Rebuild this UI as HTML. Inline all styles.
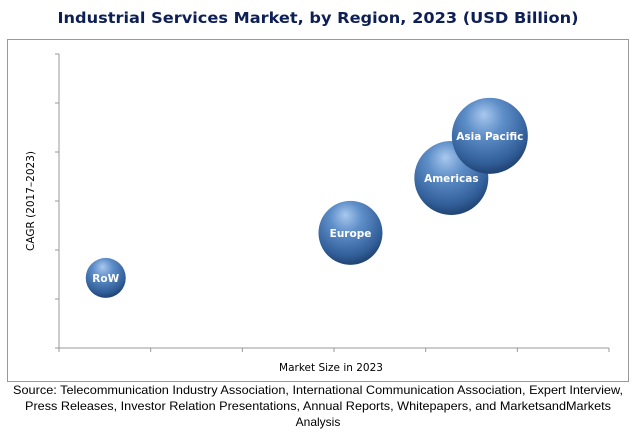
<!DOCTYPE html>
<html><head><meta charset="utf-8"><style>
body{margin:0;background:#fff;width:636px;height:439px;overflow:hidden}
svg{display:block}
</style></head><body>
<svg width="636" height="439" viewBox="0 0 636 439">
<defs>
<radialGradient id="ball" cx="0.45" cy="0.32" r="0.7" fx="0.42" fy="0.22">
<stop offset="0" stop-color="#a9c8ee"/>
<stop offset="0.35" stop-color="#5f8fc9"/>
<stop offset="0.8" stop-color="#325f99"/>
<stop offset="1" stop-color="#1d3f6e"/>
</radialGradient>
</defs>
<text x="318" y="23" text-anchor="middle" font-family="DejaVu Sans, sans-serif" font-weight="bold" font-size="15" fill="#0e1f56" textLength="521" lengthAdjust="spacingAndGlyphs">Industrial Services Market, by Region, 2023 (USD Billion)</text>
<rect x="7.5" y="39.5" width="621" height="342" fill="none" stroke="#999" stroke-width="1"/>
<g id="axes"></g>
<g id="bubbles"></g>
<text x="331" y="371" text-anchor="middle" font-family="DejaVu Sans, sans-serif" font-size="10.5" fill="#000">Market Size in 2023</text>
<text transform="translate(34,201) rotate(-90)" text-anchor="middle" font-family="DejaVu Sans, sans-serif" font-size="10.5" fill="#000">CAGR (2017–2023)</text>
<g font-family="Liberation Sans, sans-serif" font-size="12" fill="#000" text-anchor="middle">
<text x="318" y="394" textLength="610" lengthAdjust="spacingAndGlyphs">Source: Telecommunication Industry Association, International Communication Association, Expert Interview,</text>
<text x="318" y="410" textLength="586" lengthAdjust="spacingAndGlyphs">Press Releases, Investor Relation Presentations, Annual Reports, Whitepapers, and MarketsandMarkets</text>
<text x="318" y="426">Analysis</text>
</g>
</svg>
<script>
const regions=["RoW","Europe","Americas","Asia Pacific"];
const marketSize=[0.51,3.18,4.28,4.7];
const cagr=[1.43,2.35,3.47,4.33];
const bubbleSize=[20,32,37,38];
const xTicks=[0,1,2,3,4,5,6];
const yTicks=[0,1,2,3,4,5,6];
const NS="http://www.w3.org/2000/svg";
const x0=59,x1=609,y0=348,y1=54;
const X=v=>x0+(v-0)/6*(x1-x0);
const Y=v=>y0-(v-0)/6*(y0-y1);
function mk(t,a,p){const e=document.createElementNS(NS,t);for(const k in a)e.setAttribute(k,a[k]);p.appendChild(e);return e;}
const ax=document.getElementById('axes');
let l=mk('line',{x1:x0,y1:y0,x2:x1,y2:y0,stroke:'#999'},ax);


l=mk('line',{x1:x0,y1:y0,x2:x0,y2:y1,stroke:'#999'},ax);


xTicks.forEach(t=>{const e=mk('line',{x1:X(t),y1:y0,x2:X(t),y2:y0+4,stroke:'#999'},ax);

});
yTicks.forEach(t=>{const e=mk('line',{x1:x0-4,y1:Y(t),x2:x0,y2:Y(t),stroke:'#999'},ax);

});
const bg=document.getElementById('bubbles');
regions.forEach((r,i)=>{
const g=mk('g',{},bg);


mk('circle',{cx:X(marketSize[i]),cy:Y(cagr[i]),r:bubbleSize[i],fill:'url(#ball)'},g);
const t=mk('text',{x:X(marketSize[i]),y:Y(cagr[i])+4,'text-anchor':'middle','font-family':'DejaVu Sans, sans-serif','font-weight':'bold','font-size':'10.5',fill:'#fff'},g);
t.textContent=r;
});
</script>
</body></html>
